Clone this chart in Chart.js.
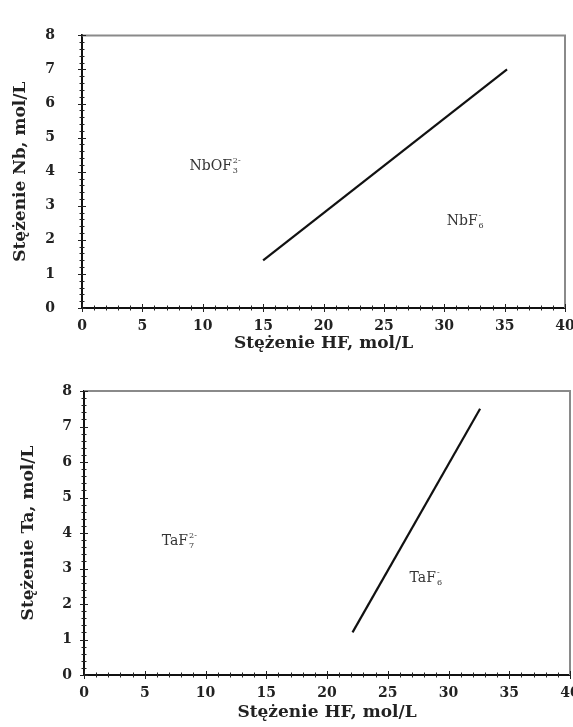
<!DOCTYPE html>
<html lang="pl">
<head>
  <meta charset="UTF-8">
  <title>Stężenie Nb / Ta w funkcji stężenia HF</title>
  <style>
    body { margin: 0; background: #fff; }
    .wrap { position: absolute; left: 0; width: 573px; }
    #top { top: 0; }
    #bottom { top: 362px; }
  </style>
</head>
<body>
  <div class="wrap" id="top"><canvas id="nbChart" width="573" height="360"></canvas></div>
  <div class="wrap" id="bottom"><canvas id="taChart" width="573" height="365"></canvas></div>

  <script src="https://cdn.jsdelivr.net/npm/chart.js@4"></script>
  <script>
    // axis ticks
    const xTicks = [0, 5, 10, 15, 20, 25, 30, 35, 40];
    const yTicks = [0, 1, 2, 3, 4, 5, 6, 7, 8];

    // boundary lines
    const nbHF = [15.0, 35.2];
    const nbConc = [1.4, 7.0];
    const taHF = [22.1, 32.6];
    const taConc = [1.2, 7.5];

    // species labels (anchored in data units)
    const nbSpecies = [
      { base: 'NbOF', sub: '3', sup: '2-', x: 8.9, y: 4.05 },
      { base: 'NbF', sub: '6', sup: '-', x: 30.2, y: 2.45 }
    ];
    const taSpecies = [
      { base: 'TaF', sub: '7', sup: '2-', x: 6.4, y: 3.65 },
      { base: 'TaF', sub: '6', sup: '-', x: 26.8, y: 2.62 }
    ];

    const serif = '"DejaVu Serif", serif';

    // gray top/right frame + small crossing tick marks
    const frameTicks = {
      id: 'frameTicks',
      beforeDatasetsDraw(chart) {
        const { ctx, chartArea: a } = chart;
        ctx.save();
        ctx.strokeStyle = '#8a8a8a';
        ctx.lineWidth = 2;
        ctx.beginPath();
        ctx.moveTo(a.left, a.top);
        ctx.lineTo(a.right, a.top);
        ctx.lineTo(a.right, a.bottom);
        ctx.stroke();
        ctx.restore();
      },
      afterDraw(chart) {
        const { ctx, chartArea: a, scales } = chart;
        ctx.save();
        ctx.strokeStyle = '#222';
        ctx.lineWidth = 1;
        ctx.beginPath();
        for (let v = 0; v <= 40; v++) {
          const px = Math.round(scales.x.getPixelForValue(v)) + 0.5;
          const len = v % 5 === 0 ? 4 : 2.5;
          ctx.moveTo(px, a.bottom - len);
          ctx.lineTo(px, a.bottom + len);
        }
        for (let i = 0; i <= 40; i++) {
          const py = Math.round(scales.y.getPixelForValue(i / 5)) + 0.5;
          const len = i % 5 === 0 ? 4 : 2.5;
          ctx.moveTo(a.left - len, py);
          ctx.lineTo(a.left + len, py);
        }
        ctx.stroke();
        ctx.restore();
      }
    };

    const speciesLabels = {
      id: 'speciesLabels',
      afterDatasetsDraw(chart, args, opts) {
        const { ctx, scales } = chart;
        ctx.save();
        ctx.fillStyle = '#333';
        ctx.textBaseline = 'alphabetic';
        ctx.textAlign = 'left';
        (opts.items || []).forEach(s => {
          const x = scales.x.getPixelForValue(s.x);
          const y = scales.y.getPixelForValue(s.y);
          ctx.font = '14px ' + serif;
          ctx.fillText(s.base, x, y);
          const w = ctx.measureText(s.base).width;
          ctx.font = '8px ' + serif;
          ctx.fillText(s.sub, x + w + 1, y + 3);
          ctx.fillText(s.sup, x + w + 1, y - 7);
        });
        ctx.restore();
      }
    };

    function makeChart(id, hf, conc, species, yTitle, lay) {
      return new Chart(document.getElementById(id), {
        type: 'scatter',
        data: {
          datasets: [{
            data: hf.map((v, i) => ({ x: v, y: conc[i] })),
            showLine: true,
            borderColor: '#111',
            borderWidth: 2.2,
            pointRadius: 0
          }]
        },
        options: {
          responsive: false,
          animation: false,
          layout: { padding: { top: lay.top, right: lay.right, bottom: lay.bottom, left: 0 } },
          plugins: {
            legend: { display: false },
            tooltip: { enabled: false },
            speciesLabels: { items: species }
          },
          scales: {
            x: {
              type: 'linear',
              min: 0, max: 40,
              afterBuildTicks: s => { s.ticks = xTicks.map(v => ({ value: v })); },
              afterFit: s => { s.height = lay.xh; s.paddingRight = 0; s.paddingLeft = 0; },
              grid: { drawOnChartArea: false, drawTicks: false },
              border: { color: '#111', width: 2 },
              ticks: { color: '#222', padding: 10, font: { family: serif, size: 14, weight: 'bold' } },
              title: {
                display: true,
                text: 'Stężenie HF, mol/L',
                color: '#222',
                padding: { top: 0, bottom: 0 },
                font: { family: serif, size: 17, weight: 'bold' }
              }
            },
            y: {
              type: 'linear',
              min: 0, max: 8,
              afterBuildTicks: s => { s.ticks = yTicks.map(v => ({ value: v })); },
              afterFit: s => { s.width = lay.yw; },
              grid: { drawOnChartArea: false, drawTicks: false },
              border: { color: '#111', width: 2 },
              ticks: { color: '#222', padding: lay.ypad, font: { family: serif, size: 14, weight: 'bold' } },
              title: {
                display: true,
                text: yTitle,
                color: '#222',
                padding: { top: lay.ytp, bottom: 0 },
                font: { family: serif, size: 17, weight: 'bold' }
              }
            }
          }
        },
        plugins: [frameTicks, speciesLabels]
      });
    }

    makeChart('nbChart', nbHF, nbConc, nbSpecies, 'Stężenie Nb, mol/L',
      { top: 20, right: 8, bottom: 6, xh: 46, yw: 82, ypad: 27, ytp: 10 });
    makeChart('taChart', taHF, taConc, taSpecies, 'Stężenie Ta, mol/L',
      { top: 29, right: 3, bottom: 4, xh: 48, yw: 84, ypad: 12, ytp: 18 });
  </script>
</body>
</html>
